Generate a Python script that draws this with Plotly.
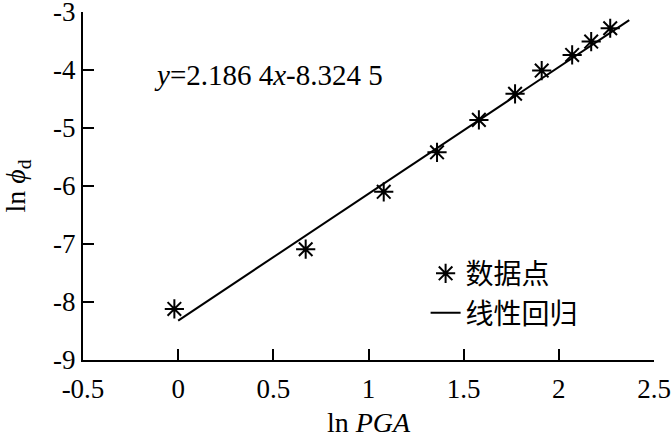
import plotly.graph_objects as go

# data
ln_pga = [-0.02, 0.67, 1.08, 1.36, 1.58, 1.77, 1.91, 2.07, 2.17, 2.27]
ln_phi = [-8.12, -7.09, -6.10, -5.42, -4.86, -4.41, -4.01, -3.74, -3.51, -3.28]

# regression line ends (y = 2.1864x - 8.3245)
fit_x = [0.0, 2.37]
fit_y = [-8.32, -3.14]

x_ticks = [-0.5, 0, 0.5, 1, 1.5, 2, 2.5]
y_ticks = [-9, -8, -7, -6, -5, -4, -3]

serif = "Liberation Serif, Times New Roman, serif"
cjk = "Noto Sans CJK SC, sans-serif"

fig = go.Figure()
fig.add_trace(go.Scatter(
    x=ln_pga, y=ln_phi, mode="markers", name="数据点",
    marker=dict(symbol="asterisk-open", size=16, color="black",
                line=dict(color="black", width=2)),
))
fig.add_trace(go.Scatter(
    x=fit_x, y=fit_y, mode="lines", name="线性回归",
    line=dict(color="black", width=2),
))

fig.add_annotation(
    x=-0.14, y=-4.09, xref="x", yref="y", xanchor="left", yanchor="middle",
    text="<i>y</i>=2.186 4<i>x</i>-8.324 5", showarrow=False,
    font=dict(family=serif, size=29, color="black"),
)

fig.update_xaxes(
    range=[-0.5, 2.5], tickvals=x_ticks, ticktext=[str(v) for v in x_ticks],
    showgrid=False, zeroline=False, showline=True, linecolor="black", linewidth=2,
    ticks="inside", ticklen=11, tickwidth=2, tickcolor="black",
    automargin=False, ticklabeloverflow="allow", ticklabelstandoff=4,
    tickfont=dict(family=serif, size=27, color="black"),
    title=dict(text="ln <i>PGA</i>", font=dict(family=serif, size=28, color="black"), standoff=18),
)
fig.update_yaxes(
    range=[-9, -3], tickvals=y_ticks, ticktext=[str(v) for v in y_ticks],
    showgrid=False, zeroline=False, showline=True, linecolor="black", linewidth=2,
    ticks="inside", ticklen=11, tickwidth=2, tickcolor="black",
    automargin=False, ticklabeloverflow="allow",
    tickfont=dict(family=serif, size=27, color="black"),
    title=dict(text="ln <i>ϕ</i><sub>d</sub>", font=dict(family=serif, size=28, color="black"), standoff=20),
)

fig.update_layout(
    width=671, height=438,
    margin=dict(l=83, r=17, t=12, b=78),
    plot_bgcolor="#fff", paper_bgcolor="#fff",
    legend=dict(x=0.60, y=0.32, xanchor="left", yanchor="top",
                bgcolor="rgba(0,0,0,0)", font=dict(family=cjk, size=28, color="black"),
                itemwidth=30),
)

# page default body margin would shift the figure by 8px
fig.write_html("out.html", config={"displayModeBar": False},
               post_script="document.body.style.margin='0';")
